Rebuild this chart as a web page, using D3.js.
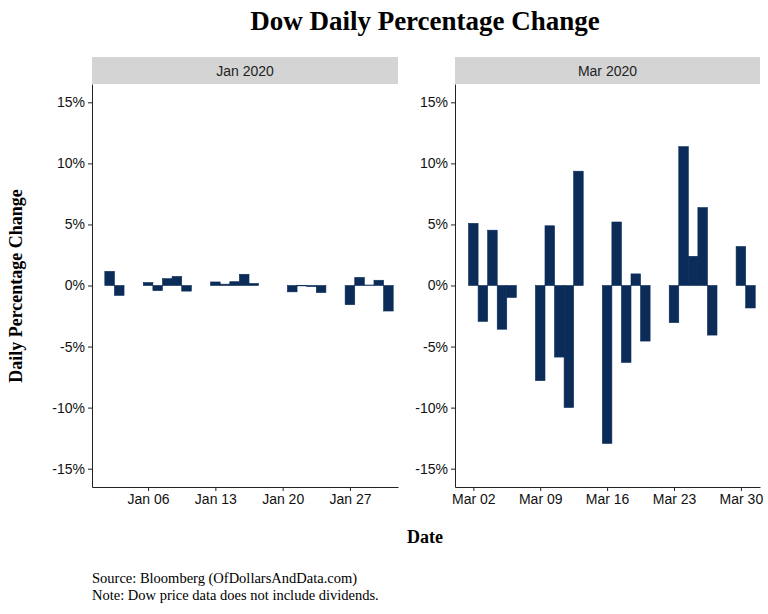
<!DOCTYPE html>
<html><head><meta charset="utf-8">
<script src="https://cdn.jsdelivr.net/npm/d3@7"></script>
<style>body{margin:0;background:#fff}</style>
</head><body><div id="chart"></div>
<script>
const janDates = ['2020-01-02','2020-01-03','2020-01-06','2020-01-07','2020-01-08','2020-01-09','2020-01-10','2020-01-13','2020-01-14','2020-01-15','2020-01-16','2020-01-17','2020-01-21','2020-01-22','2020-01-23','2020-01-24','2020-01-27','2020-01-28','2020-01-29','2020-01-30','2020-01-31'];
const janValues = [1.16,-0.81,0.24,-0.42,0.56,0.74,-0.46,0.29,0.11,0.31,0.92,0.17,-0.52,-0.03,-0.09,-0.58,-1.57,0.66,0.04,0.43,-2.09];
const marDates = ['2020-03-02','2020-03-03','2020-03-04','2020-03-05','2020-03-06','2020-03-09','2020-03-10','2020-03-11','2020-03-12','2020-03-13','2020-03-16','2020-03-17','2020-03-18','2020-03-19','2020-03-20','2020-03-23','2020-03-24','2020-03-25','2020-03-26','2020-03-27','2020-03-30','2020-03-31'];
const marValues = [5.09,-2.94,4.53,-3.58,-0.98,-7.79,4.89,-5.86,-9.99,9.36,-12.93,5.20,-6.30,0.95,-4.55,-3.04,11.37,2.39,6.38,-4.06,3.19,-1.84];
const yTicks = [-15,-10,-5,0,5,10,15];
const janTicks = ['2020-01-06','2020-01-13','2020-01-20','2020-01-27'];
const marTicks = ['2020-03-02','2020-03-09','2020-03-16','2020-03-23','2020-03-30'];

const W = 768, H = 614, plotTop = 84, plotBottom = 487;
const parse = d3.utcParse('%Y-%m-%d');
const svg = d3.select('#chart').append('svg').attr('width', W).attr('height', H);
const serif = '"Liberation Serif","DejaVu Serif",serif';
const sans = '"Liberation Sans",Arial,sans-serif';

svg.append('text').attr('x', 425).attr('y', 30).attr('text-anchor', 'middle')
  .style('font-family', serif).style('font-weight', 'bold').style('font-size', '27px')
  .text('Dow Daily Percentage Change');

const y = d3.scaleLinear().domain([-16.5, 16.5]).range([plotBottom, plotTop]);

const panels = [
  {label: 'Jan 2020', x0: 92, x1: 398, dom: ['2019-12-31T04:00', '2020-02-01T00:00'], dates: janDates, vals: janValues, ticks: janTicks},
  {label: 'Mar 2020', x0: 455, x1: 760, dom: ['2020-02-29T02:00', '2020-04-01T00:00'], dates: marDates, vals: marValues, ticks: marTicks}
];

panels.forEach(p => {
  const x = d3.scaleUtc().domain(p.dom.map(d => new Date(d + 'Z'))).range([p.x0, p.x1]);
  const g = svg.append('g');
  g.append('rect').attr('x', p.x0).attr('y', 57).attr('width', p.x1 - p.x0).attr('height', 27).attr('fill', '#d4d4d4');
  g.append('text').attr('x', (p.x0 + p.x1) / 2).attr('y', 76).attr('text-anchor', 'middle')
    .style('font-family', sans).style('font-size', '14px').attr('fill', '#222').text(p.label);
  const day = x(parse('2020-01-02')) - x(parse('2020-01-01'));
  const data = p.dates.map((d, i) => ({d: parse(d), v: p.vals[i]}));
  g.selectAll('rect.bar').data(data).join('rect').attr('class', 'bar')
    .attr('x', d => x(d.d) - day / 2).attr('width', day)
    .attr('y', d => y(Math.max(0, d.v))).attr('height', d => Math.abs(y(d.v) - y(0)))
    .attr('fill', '#0b2c58').attr('stroke', '#0b2c58').attr('stroke-width', 0.6);
  const ya = g.append('g').attr('transform', `translate(${p.x0},0)`)
    .call(d3.axisLeft(y).tickValues(yTicks).tickFormat(d => d + '%').tickSize(4).tickSizeOuter(0));
  const xa = g.append('g').attr('transform', `translate(0,${plotBottom})`)
    .call(d3.axisBottom(x).tickValues(p.ticks.map(parse)).tickFormat(d3.utcFormat('%b %d')).tickSize(4).tickSizeOuter(0));
  [ya, xa].forEach(a => {
    a.selectAll('text').style('font-family', sans).style('font-size', '14px').attr('fill', '#111');
    a.selectAll('line,path').attr('stroke', '#222');
  });
});

svg.append('text').attr('transform', 'translate(22,286) rotate(-90)').attr('text-anchor', 'middle')
  .style('font-family', serif).style('font-weight', 'bold').style('font-size', '18px').text('Daily Percentage Change');
svg.append('text').attr('x', 425).attr('y', 543).attr('text-anchor', 'middle')
  .style('font-family', serif).style('font-weight', 'bold').style('font-size', '18px').text('Date');
svg.append('text').attr('x', 92).attr('y', 583).style('font-family', serif).style('font-size', '14.5px')
  .text('Source: Bloomberg (OfDollarsAndData.com)');
svg.append('text').attr('x', 92).attr('y', 600).style('font-family', serif).style('font-size', '14.5px')
  .text('Note: Dow price data does not include dividends.');
</script></body></html>
